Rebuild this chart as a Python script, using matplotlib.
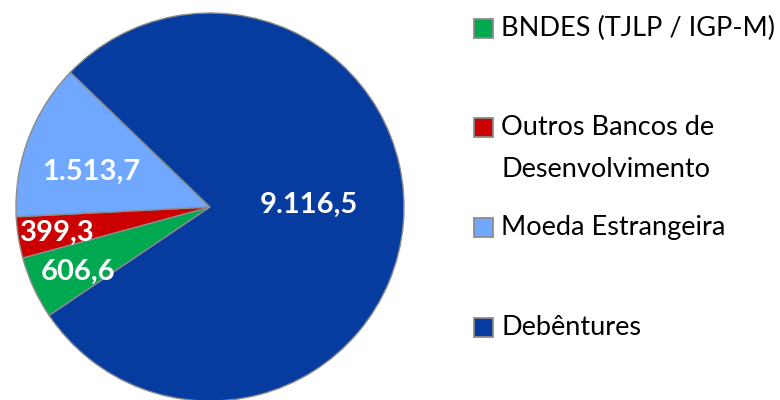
import numpy as np
import matplotlib
matplotlib.use('Agg')
import matplotlib.pyplot as plt
from matplotlib.patches import Rectangle

# data
categories = ['BNDES (TJLP / IGP-M)', 'Outros Bancos de\nDesenvolvimento', 'Moeda Estrangeira', 'Debêntures']
values = [606.6, 399.3, 1513.7, 9116.5]
value_labels = ['606,6', '399,3', '1.513,7', '9.116,5']
colors = ['#00A84F', '#CC0000', '#6FA8FE', '#063CA0']

plt.rcParams['font.family'] = ['Lato', 'DejaVu Sans']

W, H = 780, 400
fig = plt.figure(figsize=(W / 100, H / 100), dpi=100)

# pie axes: center (210, 207) px, radius 194 px
cx, cy, r = 210, 207, 194
ax = fig.add_axes([(cx - r) / W, (H - cy - r) / H, 2 * r / W, 2 * r / H])
wedges, _ = ax.pie(values, colors=colors, startangle=214, counterclock=False,
                   radius=1.0, wedgeprops=dict(edgecolor='#8C8C8C', linewidth=1.0))
ax.set_xlim(-1, 1)
ax.set_ylim(-1, 1)
ax.set_aspect('equal')
ax.axis('off')

# data labels placed inside wedges
label_dist = [0.76, 0.80, 0.64, 0.51]
label_shift = [1.5, 0.5, 4.0, 6.0]
for w, txt, d, s in zip(wedges, value_labels, label_dist, label_shift):
    ang = np.deg2rad((w.theta1 + w.theta2) / 2 + s)
    ax.text(d * np.cos(ang), d * np.sin(ang), txt, ha='center', va='center',
            color='white', fontsize=21, fontweight='bold')

# legend, drawn by hand to match the uneven row spacing
rows_y = [28, 127, 227, 327]
box = 19
for y, lab, c in zip(rows_y, categories, colors):
    fig.patches.append(Rectangle((474 / W, 1 - (y + box / 2) / H), box / W, box / H,
                                 transform=fig.transFigure, facecolor=c,
                                 edgecolor='#8C8C8C', linewidth=1.3))
    fig.text(501 / W, 1 - (y - 12) / H, lab, ha='left', va='top', fontsize=19.5,
             color='black', linespacing=1.85)

fig.savefig('out.png', dpi=100)
